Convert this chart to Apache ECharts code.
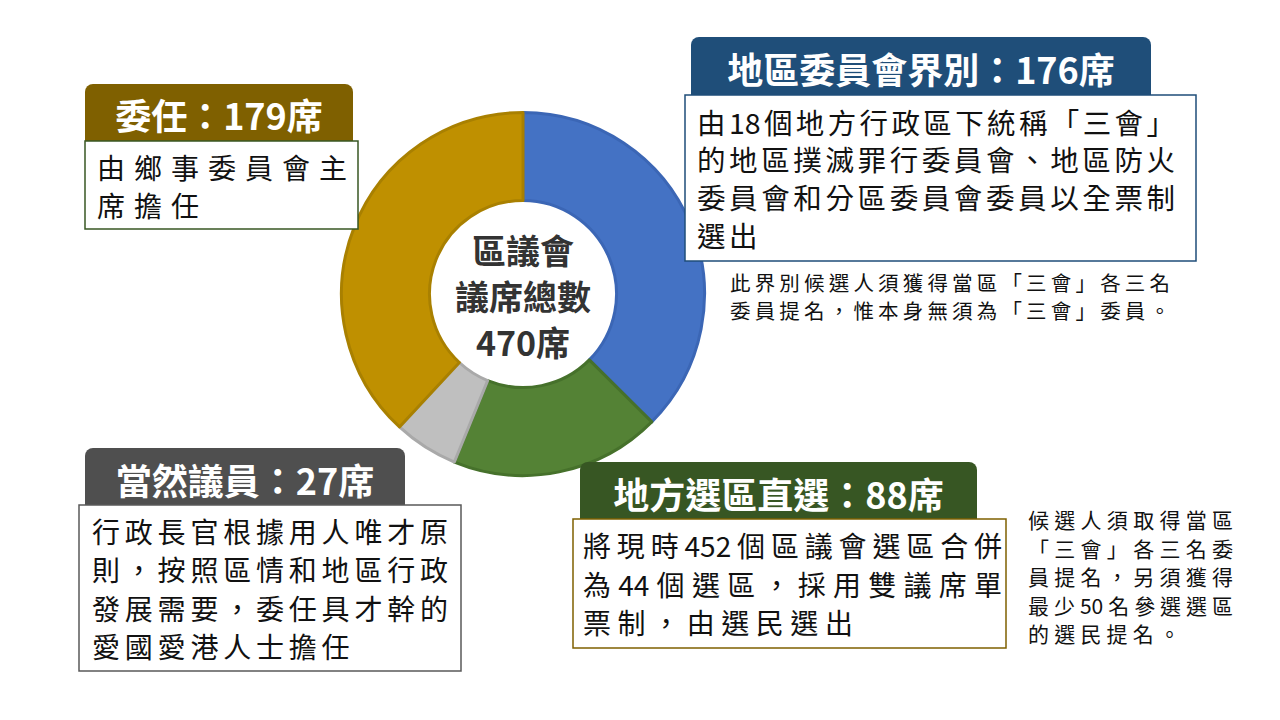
<!DOCTYPE html>
<html>
<head>
<meta charset="utf-8">
<script src="https://cdn.jsdelivr.net/npm/echarts@6/dist/echarts.min.js"></script>
<style>
  html, body { margin: 0; padding: 0; background: #ffffff; }
  #chart { width: 1280px; height: 720px; }
</style>
</head>
<body>
<div id="chart"></div>
<script>
// ---- data ----
const categories = ['地區委員會界別', '地方選區直選', '當然議員', '委任'];
const seats = [176, 88, 27, 179];
const centerLines = ['區議會', '議席總數'];
const seatUnit = '席';
const descriptions = [
  ['由18個地方行政區下統稱「三會」', '的地區撲滅罪行委員會、地區防火', '委員會和分區委員會委員以全票制', '選出'],
  ['將現時452個區議會選區合併', '為44個選區，採用雙議席單', '票制，由選民選出'],
  ['行政長官根據用人唯才原', '則，按照區情和地區行政', '發展需要，委任具才幹的', '愛國愛港人士擔任'],
  ['由鄉事委員會主', '席擔任']
];
const notes = [
  ['此界別候選人須獲得當區「三會」各三名', '委員提名，惟本身無須為「三會」委員。'],
  ['候選人須取得當區', '「三會」各三名委', '員提名，另須獲得', '最少50名參選選區', '的選民提名。']
];

// ---- styles ----
const FONT = '"Noto Sans CJK TC", "Noto Sans CJK SC", sans-serif';
const sliceFill = ['#4472C4', '#548235', '#BFBFBF', '#BF9000'];
const sliceBorder = ['#3B66B5', '#46712B', '#A9A9A9', '#A98000'];
const headerFill = ['#1F4E79', '#375623', '#4F4F4F', '#7F6000'];
const boxStroke = ['#1F4E79', '#7F6000', '#595959', '#385723'];
// layout for each category box (tw = justified text width)
const layout = [
  { hx: 691, hy: 37, hw: 460, hh: 60, bx: 685, by: 95, bw: 511, bh: 166, tx: 697, ty: 121, pitch: 37.7, fs: 28.5, tw: 478 },
  { hx: 580, hy: 462, hw: 397, hh: 59, bx: 573, by: 519, bw: 433, bh: 129, tx: 583, ty: 545, pitch: 38.5, fs: 28, tw: 419 },
  { hx: 85, hy: 448, hw: 320, hh: 59, bx: 79, by: 505, bw: 382, bh: 166, tx: 92, ty: 531, pitch: 38.3, fs: 28, tw: 356 },
  { hx: 85, hy: 84, hw: 268, hh: 58, bx: 85, by: 141, bw: 273, bh: 88, tx: 97, ty: 167, pitch: 38, fs: 28, tw: 250 }
];
const noteLayout = [
  { x: 730, y: 282, pitch: 27.5, fs: 20.5, tw: 440 },
  { x: 1028, y: 519, pitch: 28.5, fs: 21, tw: 205 }
];

const measureCtx = document.createElement('canvas').getContext('2d');
function measure(str, fs) {
  measureCtx.font = fs + 'px ' + FONT;
  return measureCtx.measureText(str).width;
}
function tokenize(str) {
  const out = [];
  Array.from(str).forEach(c => {
    if (/[0-9A-Za-z]/.test(c) && out.length && /[0-9A-Za-z]$/.test(out[out.length - 1])) {
      out[out.length - 1] += c;
    } else {
      out.push(c);
    }
  });
  return out;
}
function spacedLine(str, x, y, fs, sp, color) {
  if (!sp || sp <= 0) {
    return {
      type: 'text', z: 110,
      style: { x: x, y: y, text: str, fontSize: fs, fontFamily: FONT, fill: color,
               verticalAlign: 'middle', textAlign: 'left' }
    };
  }
  const toks = tokenize(str);
  const text = toks.map((t, i) => (i < toks.length - 1 ? '{s|' + t + '}' : '{e|' + t + '}')).join('');
  return {
    type: 'text', z: 110,
    style: {
      x: x, y: y, text: text,
      fontSize: fs, fontFamily: FONT, fill: color,
      verticalAlign: 'middle', textAlign: 'left',
      rich: {
        s: { fontSize: fs, fontFamily: FONT, fill: color, padding: [0, sp, 0, 0] },
        e: { fontSize: fs, fontFamily: FONT, fill: color }
      }
    }
  };
}
function paragraph(lines, x, y0, pitch, fs, tw, color) {
  const spacings = [];
  if (tw > 0) {
    lines.forEach((ln) => {
      const toks = tokenize(ln);
      const w = toks.reduce((a, t) => a + measure(t, fs), 0);
      spacings.push(toks.length > 1 ? (tw - w) / (toks.length - 1) : 0);
    });
    if (lines.length > 1) {
      const justified = spacings.slice(0, -1);
      spacings[spacings.length - 1] = justified.reduce((a, b) => a + b, 0) / justified.length;
    }
  }
  return lines.map((ln, j) => spacedLine(ln, x, y0 + j * pitch, fs, tw > 0 ? spacings[j] : 0, color));
}

const graphics = [];
categories.forEach((cat, i) => {
  const L = layout[i];
  graphics.push({
    type: 'rect', z: 100,
    shape: { x: L.hx, y: L.hy, width: L.hw, height: L.hh, r: [8, 8, 0, 0] },
    style: { fill: headerFill[i] }
  });
  graphics.push({
    type: 'text', z: 110,
    style: {
      x: L.hx + L.hw / 2, y: L.hy + L.hh / 2 + 1,
      text: cat + '：' + seats[i] + seatUnit,
      fontSize: 36, fontWeight: 'bold', fontFamily: FONT, fill: '#ffffff',
      textAlign: 'center', verticalAlign: 'middle'
    }
  });
  graphics.push({
    type: 'rect', z: 101,
    shape: { x: L.bx, y: L.by, width: L.bw, height: L.bh },
    style: { fill: '#ffffff', stroke: boxStroke[i], lineWidth: 1.5 }
  });
  paragraph(descriptions[i], L.tx, L.ty, L.pitch, L.fs, L.tw, '#111111').forEach(g => graphics.push(g));
});
notes.forEach((nt, i) => {
  const N = noteLayout[i];
  paragraph(nt, N.x, N.y, N.pitch, N.fs, N.tw, '#111111').forEach(g => graphics.push(g));
});
const total = seats.reduce((a, b) => a + b, 0);
centerLines.concat([total + seatUnit]).forEach((ln, j) => {
  graphics.push({
    type: 'text', z: 110,
    style: {
      x: 523, y: 249 + j * 46,
      text: ln,
      fontSize: 34, fontWeight: 'bold', fontFamily: FONT, fill: '#333333',
      textAlign: 'center', verticalAlign: 'middle'
    }
  });
});

const chart = echarts.init(document.getElementById('chart'), null, { renderer: 'svg' });
chart.setOption({
  backgroundColor: '#ffffff',
  animation: false,
  series: [{
    type: 'pie',
    center: [523, 294],
    radius: [93.5, 181.5],
    startAngle: 90,
    clockwise: true,
    silent: true,
    label: { show: false },
    labelLine: { show: false },
    data: categories.map((c, i) => ({
      name: c, value: seats[i],
      itemStyle: { color: sliceFill[i], borderColor: sliceBorder[i], borderWidth: 3 }
    }))
  }],
  graphic: graphics
});
</script>
</body>
</html>
